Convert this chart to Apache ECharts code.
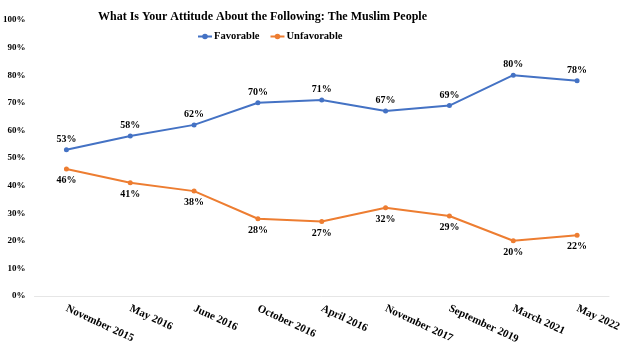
<!DOCTYPE html>
<html>
<head>
<meta charset="utf-8">
<script src="https://cdn.jsdelivr.net/npm/echarts@6/dist/echarts.min.js"></script>
<style>
  html, body { margin: 0; padding: 0; background: #fff; }
  #chart { width: 624px; height: 351px; }
</style>
</head>
<body>
<div id="chart"></div>
<script>
// 调查时间点
const categories = ['November 2015', 'May 2016', 'June 2016', 'October 2016', 'April 2016',
  'November 2017', 'September 2019', 'March 2021', 'May 2022'];
const favorable = [53, 58, 62, 70, 71, 67, 69, 80, 78];
const unfavorable = [46, 41, 38, 28, 27, 32, 29, 20, 22];
const yTicks = [0, 10, 20, 30, 40, 50, 60, 70, 80, 90, 100];

const serif = '"Liberation Serif", "Times New Roman", serif';
const chart = echarts.init(document.getElementById('chart'));

chart.setOption({
  animation: false,
  title: {
    text: 'What Is Your Attitude About the Following: The Muslim People',
    left: 93, top: 6,
    textStyle: { fontFamily: serif, fontWeight: 'bold', fontSize: 12, color: '#000' }
  },
  legend: {
    top: 26, left: 192,
    itemWidth: 14, itemHeight: 7, itemGap: 10,
    textStyle: { fontFamily: serif, fontWeight: 'bold', fontSize: 10.5, color: '#000', padding: [0, 0, 0, -3] },
    data: ['Favorable', 'Unfavorable']
  },
  grid: { left: 33, right: 15, top: 20, bottom: 55, containLabel: false },
  xAxis: {
    type: 'category',
    data: categories,
    boundaryGap: true,
    axisLine: { lineStyle: { color: '#e6e6e6', width: 1 } },
    axisTick: { show: false },
    axisLabel: {
      rotate: -25, margin: 12, interval: 0,
      fontFamily: serif, fontWeight: 'bold', fontSize: 11, color: '#000'
    }
  },
  yAxis: {
    type: 'value', min: 0, max: 100, interval: 10,
    splitLine: { show: false },
    axisLine: { show: false },
    axisTick: { show: false },
    axisLabel: {
      margin: 9,
      fontFamily: serif, fontWeight: 'bold', fontSize: 9, color: '#000',
      formatter: v => yTicks.includes(v) ? v + '%' : ''
    }
  },
  series: [
    {
      name: 'Favorable', type: 'line', data: favorable,
      symbol: 'circle', symbolSize: 5,
      lineStyle: { color: '#4472C4', width: 2 },
      itemStyle: { color: '#4472C4' },
      label: {
        show: true, position: 'top', distance: 3, formatter: '{c}%',
        fontFamily: serif, fontWeight: 'bold', fontSize: 10, color: '#000'
      }
    },
    {
      name: 'Unfavorable', type: 'line', data: unfavorable,
      symbol: 'circle', symbolSize: 5,
      lineStyle: { color: '#ED7D31', width: 2 },
      itemStyle: { color: '#ED7D31' },
      label: {
        show: true, position: 'bottom', distance: 4, formatter: '{c}%',
        fontFamily: serif, fontWeight: 'bold', fontSize: 10, color: '#000'
      }
    }
  ]
});
</script>
</body>
</html>
